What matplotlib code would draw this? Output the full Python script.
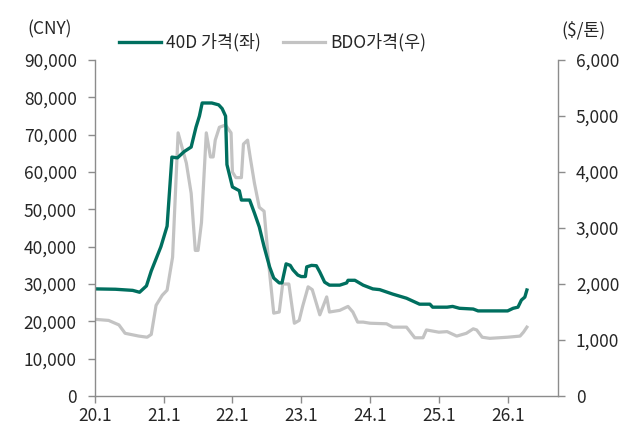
import matplotlib
matplotlib.use("Agg")
import matplotlib.pyplot as plt
from matplotlib.ticker import FuncFormatter

plt.rcParams['font.family'] = ['Noto Sans CJK KR', 'DejaVu Sans']

# years since 2020.0
t_40d = [0.0, 0.3, 0.55, 0.65, 0.75, 0.82, 0.96, 1.05, 1.12, 1.2, 1.3, 1.4, 1.47, 1.52, 1.56,
         1.7, 1.8, 1.85, 1.9, 1.92, 2.0, 2.1, 2.13, 2.25, 2.32, 2.39, 2.46, 2.54, 2.6, 2.68,
         2.72, 2.78, 2.84, 2.88, 2.95, 3.0, 3.06, 3.08, 3.15, 3.22, 3.27, 3.34, 3.41, 3.56,
         3.66, 3.68, 3.78, 3.9, 4.04, 4.14, 4.33, 4.53, 4.72, 4.87, 4.91, 5.12, 5.2, 5.3,
         5.5, 5.57, 6.0, 6.08, 6.15, 6.2, 6.25, 6.28]
v_40d = [28700, 28600, 28300, 27800, 29500, 33500, 40000, 45500, 64000, 63800, 65500, 66700,
         72000, 75000, 78500, 78500, 78000, 77000, 75000, 62000, 56000, 55000, 52500, 52500,
         49000, 45300, 40000, 34600, 31600, 30300, 30300, 35400, 35000, 33800, 32400, 32000,
         32000, 34600, 35000, 34900, 33200, 30500, 29700, 29700, 30300, 31000, 31000, 29700,
         28700, 28500, 27300, 26200, 24600, 24600, 23800, 23800, 24000, 23500, 23300, 22800,
         22800, 23500, 23800, 25700, 26500, 28400]

t_bdo = [0.0, 0.2, 0.35, 0.44, 0.64, 0.76, 0.82, 0.89, 0.98, 1.05, 1.13, 1.21, 1.33, 1.4,
         1.46, 1.5, 1.55, 1.62, 1.68, 1.72, 1.75, 1.81, 1.9, 1.98, 2.0, 2.05, 2.13, 2.16, 2.22,
         2.26, 2.32, 2.39, 2.46, 2.54, 2.6, 2.68, 2.73, 2.82, 2.9, 2.97, 3.02, 3.1, 3.16, 3.27,
         3.37, 3.41, 3.56, 3.68, 3.75, 3.82, 3.9, 4.0, 4.24, 4.33, 4.53, 4.65, 4.77, 4.82, 5.0,
         5.12, 5.26, 5.4, 5.5, 5.55, 5.63, 5.74, 6.0, 6.18, 6.23, 6.28]
v_bdo = [1370, 1350, 1270, 1120, 1070, 1050, 1100, 1620, 1800, 1890, 2480, 4700, 4160, 3620,
         2600, 2600, 3100, 4700, 4270, 4270, 4570, 4800, 4840, 4700, 4000, 3900, 3900, 4500,
         4570, 4250, 3800, 3370, 3300, 2200, 1480, 1500, 2000, 2000, 1300, 1350, 1600, 1950,
         1900, 1450, 1770, 1500, 1530, 1600, 1500, 1320, 1320, 1300, 1290, 1230, 1230, 1040,
         1040, 1180, 1140, 1150, 1070, 1120, 1200, 1180, 1050, 1030, 1050, 1070, 1140, 1230]

year_labels = ['20.1', '21.1', '22.1', '23.1', '24.1', '25.1', '26.1']

teal = '#006f5f'
grey = '#c3c3c3'
axis_col = '#8c8c8c'
text_col = '#262626'

fig = plt.figure(figsize=(6.24, 4.26), dpi=100)
ax = fig.add_axes([0.152, 0.0704, 0.742, 0.7886])
ax2 = ax.twinx()

ax2.plot(t_bdo, v_bdo, color=grey, lw=2.3, label='BDO가격(우)')
ax.plot(t_40d, v_40d, color=teal, lw=2.4, label='40D 가격(좌)')
ax.set_zorder(ax2.get_zorder() + 1)
ax.patch.set_visible(False)

ax.set_xlim(0, 6.73)
ax.set_ylim(0, 90000)
ax2.set_ylim(0, 6000)
ax.set_yticks(range(0, 90001, 10000))
ax2.set_yticks(range(0, 6001, 1000))
ax.set_xticks(range(len(year_labels)))
ax.set_xticklabels(year_labels)
fmt = FuncFormatter(lambda v, p: f'{int(v):,}')
ax.yaxis.set_major_formatter(fmt)
ax2.yaxis.set_major_formatter(fmt)

for a in (ax, ax2):
    for s in a.spines.values():
        s.set_visible(False)
    a.tick_params(colors=axis_col, labelcolor=text_col, labelsize=12.5, length=5, width=1)
ax.spines['left'].set_visible(True)
ax.spines['bottom'].set_visible(True)
ax2.spines['right'].set_visible(True)
for s in (ax.spines['left'], ax.spines['bottom'], ax2.spines['right']):
    s.set_color(axis_col)
    s.set_linewidth(1)
ax.tick_params(axis='y', pad=8)
ax2.tick_params(axis='y', pad=8)
ax.tick_params(axis='x', pad=3)

fig.text(0.08, 0.93, '(CNY)', ha='center', va='center', fontsize=12.5, color=text_col)
fig.text(0.935, 0.93, '($/톤)', ha='center', va='center', fontsize=12.5, color=text_col)

h1, l1 = ax.get_legend_handles_labels()
h2, l2 = ax2.get_legend_handles_labels()
fig.legend(h1 + h2, l1 + l2, loc='center', bbox_to_anchor=(0.437, 0.9), ncol=2, frameon=False,
           fontsize=12.5, handlelength=2.4, handletextpad=0.3, columnspacing=1.3,
           labelcolor=text_col)

fig.savefig('out.png', dpi=100)
